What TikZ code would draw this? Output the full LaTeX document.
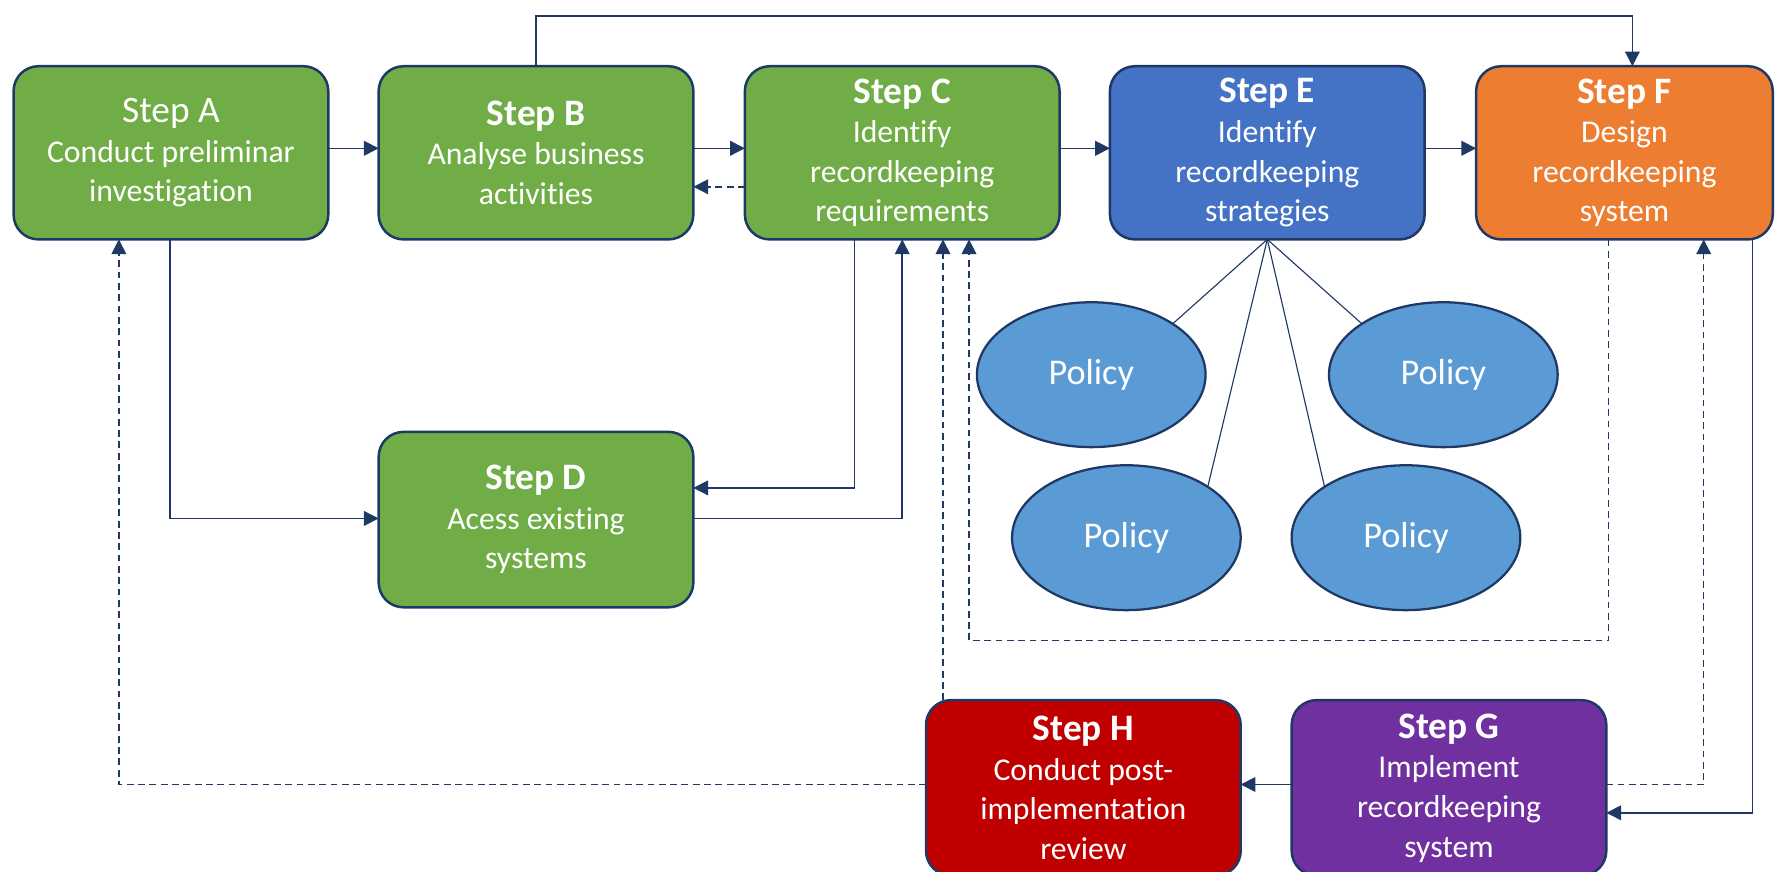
\documentclass[tikz,border=0pt]{standalone}
\usepackage{fontspec}
\setmainfont{Carlito}[Ligatures={NoCommon}]
\usetikzlibrary{arrows.meta,shapes.geometric}
\definecolor{navy}{HTML}{1F3864}
\definecolor{cgreen}{HTML}{70AD47}
\definecolor{cblue}{HTML}{4472C4}
\definecolor{corange}{HTML}{ED7D31}
\definecolor{cred}{HTML}{C00000}
\definecolor{cpurple}{HTML}{7030A0}
\definecolor{cpolicy}{HTML}{5B9BD5}
\newcommand{\ttl}[1]{{\fontsize{33}{36}\selectfont #1}}
\begin{document}
\begin{tikzpicture}[x=1pt,y=-1pt,
  stepbox/.style={draw=navy, line width=2.2pt, rounded corners=22pt, minimum width=278pt, minimum height=153pt,
    inner sep=0pt, outer sep=0pt, align=center, text=white, font=\fontsize{28}{35}\selectfont},
  policy/.style={ellipse, draw=navy, line width=2pt, fill=cpolicy, minimum width=202pt, minimum height=128pt,
    inner sep=0pt, outer sep=0pt, text=white, font=\fontsize{32}{38}\selectfont},
  conn/.style={draw=navy, line width=1.3pt, -{Triangle[length=13pt,width=13pt]}},
  dsh/.style={dash pattern=on 6pt off 4pt},
  spoke/.style={draw=navy, line width=1pt}]
\useasboundingbox (0,0) rectangle (1568,770);
% boxes
\node[stepbox, fill=cgreen] (A) at (151,135) {\ttl{Step A}\\Conduct preliminar\\investigation};
\node[stepbox, fill=cgreen] (B) at (473.5,135) {\ttl{\textbf{Step B}}\\Analyse business\\activities};
\node[stepbox, fill=cgreen] (C) at (797,135) {\ttl{\textbf{Step C}}\\Identify\\recordkeeping\\requirements};
\node[stepbox, fill=cblue] (E) at (1119.5,135) {\ttl{\textbf{Step E}}\\Identify\\recordkeeping\\strategies};
\node[stepbox, fill=corange, minimum width=262pt] (F) at (1435,135) {\ttl{\textbf{Step F}}\\Design\\recordkeeping\\system};
\node[stepbox, fill=cgreen, minimum height=155pt] (D) at (473.5,459) {\ttl{\textbf{Step D}}\\Acess existing\\systems};
\node[stepbox, fill=cred, minimum height=155pt] (H) at (957,696) {\ttl{\textbf{Step H}}\\Conduct post-\\implementation\\review};
\node[stepbox, fill=cpurple, minimum height=155pt] (G) at (1280,696) {\ttl{\textbf{Step G}}\\Implement\\recordkeeping\\system};
% policies
\node[policy] (P1) at (964,331) {Policy};
\node[policy] (P2) at (1275,331) {Policy};
\node[policy] (P3) at (995,475) {Policy};
\node[policy] (P4) at (1242,475) {Policy};
\draw[spoke] (E.south) -- (P1.32);
\draw[spoke] (E.south) -- (P2.148);
\draw[spoke] (E.south) -- (P3.32);
\draw[spoke] (E.south) -- (P4.148);
% helper coordinates
\coordinate (x105) at (105,0);
\coordinate (x150) at (150,0);
\coordinate (x755) at (755,0);
\coordinate (x833) at (833,0);
\coordinate (x856) at (856,0);
\coordinate (x1421) at (1421,0);
\coordinate (x1442) at (1442,0);
\coordinate (x1505) at (1505,0);
\coordinate (x1548) at (1548,0);
\coordinate (y14) at (0,14);
\coordinate (y131) at (0,131);
\coordinate (y165) at (0,165);
\coordinate (y431) at (0,431);
\coordinate (y458) at (0,458);
\coordinate (y566) at (0,566);
\coordinate (y693) at (0,693);
\coordinate (y718) at (0,718);
% connectors
\draw[conn] (A.east |- y131) -- (B.west |- y131);
\draw[conn] (B.east |- y131) -- (C.west |- y131);
\draw[conn,dsh] (C.west |- y165) -- (B.east |- y165);
\draw[conn] (C.east |- y131) -- (E.west |- y131);
\draw[conn] (E.east |- y131) -- (F.west |- y131);
\draw[conn] (B.north) -- (B.north |- y14) -| (F.north -| x1442);
\draw[conn] (A.south -| x150) |- (D.west |- y458);
\draw[conn] (C.south -| x755) |- (D.east |- y431);
\draw[conn] (D.east |- y458) -| (C.south);
\draw[conn,dsh] (H.north -| x833) -- (C.south -| x833);
\draw[conn,dsh] (F.south -| x1421) -- (x1421 |- y566) -| (C.south -| x856);
\draw[conn,dsh] (G.east |- y693) -| (F.south -| x1505);
\draw[conn] (F.south -| x1548) |- (G.east |- y718);
\draw[conn] (G.west |- y693) -- (H.east |- y693);
\draw[conn,dsh] (H.west |- y693) -| (A.south -| x105);
\end{tikzpicture}
\end{document}
